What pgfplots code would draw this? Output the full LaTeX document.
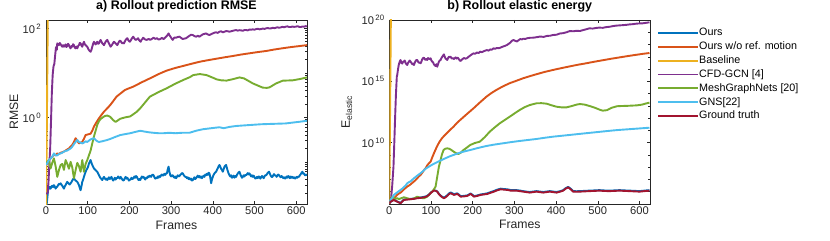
\documentclass[border=0pt]{standalone}
\usepackage{fontspec}
\setmainfont{Liberation Sans}
\usepackage{pgfplots}
\pgfplotsset{compat=1.18}
\definecolor{cOurs}{rgb}{0,0.447,0.741}
\definecolor{cWo}{rgb}{0.85,0.325,0.098}
\definecolor{cBase}{rgb}{0.929,0.694,0.125}
\definecolor{cCfd}{rgb}{0.494,0.184,0.556}
\definecolor{cMgn}{rgb}{0.466,0.674,0.188}
\definecolor{cGns}{rgb}{0.301,0.745,0.933}
\definecolor{cGt}{rgb}{0.635,0.078,0.184}
\definecolor{axgray}{rgb}{0.15,0.15,0.15}
\tikzset{L/.style={line width=1.9bp, line join=round}}
\pgfplotsset{
  mystyle/.style={
    scale only axis, width=261bp, height=184bp,
    xmin=0, xmax=626, xtick={0,100,...,600},
    tick align=inside,
    axis line style={draw=axgray, line width=0.5bp},
    tick style={draw=axgray, line width=0.5bp},
    major tick length=3bp, minor tick length=2bp,
    tick label style={font=\fontsize{11.2}{12}\selectfont, text=axgray},
    xticklabel style={inner sep=0pt, anchor=north, yshift=-2.5bp, /pgf/number format/assume math mode=true},
    yticklabel style={inner sep=0pt, anchor=east, xshift=-4.5bp},
    xlabel=Frames,
    xlabel style={font=\fontsize{12.3}{14}\selectfont, text=axgray, at={(axis description cs:0.5,0)}, anchor=base, yshift=-25bp, inner sep=0pt},
    title style={font=\bfseries\fontsize{12.5}{14}\selectfont, at={(axis description cs:0.5,1)}, anchor=base, yshift=4.5bp, inner sep=0pt},
  }
}
\begin{document}
\begin{tikzpicture}
\path[use as bounding box] (0,0) rectangle (830bp,241bp);
% ---------------- a) ----------------
\begin{axis}[ymode=log, mystyle, at={(46bp,37bp)}, anchor=south west,
  ymin=0.0113, ymax=154,
  ytick={1,100}, yticklabels={10\textsuperscript{\,0},10\textsuperscript{\,2}},
  minor ytick={0.02,0.03,0.04,0.05,0.06,0.07,0.08,0.09,0.1,0.2,0.3,0.4,0.5,0.6,0.7,0.8,0.9,2,3,4,5,6,7,8,9,10,20,30,40,50,60,70,80,90},
  title={a) Rollout prediction RMSE},
  ylabel={RMSE},
  ylabel style={font=\fontsize{12.3}{14}\selectfont, text=axgray, at={(axis description cs:-0.107,0.5)}, anchor=base, inner sep=0pt},
]
% Ours
\addplot[cOurs, L] coordinates {(0,0.0085)(2,0.012)(5,0.023)(8,0.0275)(11,0.025)(13,0.028)(15,0.029)(17,0.027)(19,0.030)(21,0.028)(23,0.025)(25,0.027)(27,0.0275)(29,0.03)(31,0.032)(33,0.031)(35,0.033)(37,0.031)(39,0.029)(41,0.027)(43,0.025)(45,0.028)(47,0.030)(49,0.033)(51,0.0355)(53,0.034)(55,0.032)(57,0.031)(59,0.033)(61,0.035)(63,0.038)(65,0.041)(67,0.043)(69,0.040)(71,0.038)(73,0.037)(75,0.0355)(77,0.033)(79,0.030)(81,0.026)(83,0.023)(85,0.028)(87,0.0355)(89,0.040)(91,0.046)(93,0.053)(95,0.060)(97,0.066)(99,0.071)(101,0.078)(103,0.092)(105,0.10)(107,0.11)(109,0.095)(111,0.085)(113,0.078)(115,0.071)(117,0.068)(119,0.065)(121,0.062)(123,0.060)(125,0.055)(127,0.050)(129,0.046)(131,0.043)(133,0.041)(135,0.039)(137,0.043)(139,0.046)(141,0.043)(143,0.040)(145,0.042)(147,0.039)(149,0.042)(151,0.045)(153,0.041)(155,0.043)(157,0.046)(159,0.041)(161,0.038)(163,0.040)(165,0.044)(167,0.040)(169,0.043)(171,0.043)(173,0.047)(175,0.044)(177,0.042)(179,0.046)(181,0.043)(183,0.040)(185,0.038)(187,0.039)(189,0.043)(191,0.046)(193,0.042)(195,0.044)(197,0.041)(199,0.038)(201,0.040)(203,0.040)(205,0.044)(207,0.041)(210,0.043)(212,0.047)(214,0.044)(216,0.048)(218,0.046)(220,0.042)(222,0.039)(224,0.041)(226,0.039)(228,0.043)(230,0.047)(232,0.044)(234,0.046)(236,0.043)(238,0.040)(240,0.044)(242,0.043)(244,0.047)(246,0.045)(248,0.049)(250,0.048)(252,0.046)(254,0.050)(256,0.052)(258,0.050)(260,0.045)(262,0.042)(264,0.044)(266,0.043)(268,0.047)(270,0.044)(272,0.048)(274,0.046)(276,0.050)(278,0.052)(280,0.049)(282,0.050)(284,0.054)(286,0.051)(288,0.055)(290,0.055)(292,0.068)(294,0.078)(296,0.060)(298,0.050)(300,0.047)(302,0.050)(304,0.050)(306,0.046)(308,0.044)(310,0.047)(312,0.043)(314,0.046)(316,0.050)(318,0.047)(320,0.048)(322,0.051)(324,0.053)(326,0.056)(328,0.055)(330,0.051)(332,0.048)(334,0.046)(336,0.046)(338,0.043)(340,0.045)(342,0.041)(344,0.043)(346,0.040)(348,0.042)(350,0.038)(352,0.039)(354,0.042)(356,0.045)(358,0.041)(360,0.043)(362,0.046)(364,0.049)(366,0.045)(368,0.048)(370,0.044)(372,0.047)(374,0.043)(376,0.046)(378,0.049)(380,0.046)(382,0.052)(384,0.050)(386,0.054)(388,0.051)(390,0.057)(392,0.055)(394,0.045)(396,0.033)(398,0.040)(400,0.046)(402,0.051)(404,0.055)(406,0.058)(408,0.060)(410,0.066)(412,0.072)(414,0.080)(416,0.085)(418,0.078)(420,0.070)(422,0.066)(424,0.060)(426,0.068)(428,0.078)(430,0.082)(432,0.085)(434,0.072)(436,0.062)(438,0.055)(440,0.050)(442,0.047)(444,0.050)(446,0.044)(448,0.046)(450,0.049)(452,0.044)(454,0.048)(456,0.046)(458,0.051)(460,0.055)(462,0.058)(464,0.060)(466,0.053)(468,0.048)(470,0.044)(472,0.046)(474,0.050)(476,0.047)(478,0.051)(480,0.050)(482,0.053)(484,0.056)(486,0.052)(488,0.055)(490,0.051)(492,0.047)(494,0.050)(496,0.046)(498,0.049)(500,0.045)(502,0.042)(504,0.043)(506,0.046)(508,0.043)(510,0.047)(512,0.046)(514,0.042)(516,0.045)(518,0.048)(520,0.046)(522,0.043)(524,0.047)(526,0.050)(528,0.050)(530,0.053)(532,0.057)(535,0.060)(537,0.054)(539,0.049)(541,0.046)(543,0.046)(545,0.050)(547,0.053)(549,0.049)(551,0.050)(553,0.046)(555,0.049)(557,0.052)(559,0.050)(561,0.047)(563,0.045)(565,0.048)(567,0.046)(569,0.043)(571,0.045)(573,0.042)(575,0.043)(577,0.047)(579,0.044)(581,0.048)(583,0.046)(585,0.043)(587,0.047)(589,0.044)(591,0.046)(593,0.043)(595,0.045)(597,0.042)(599,0.043)(601,0.046)(603,0.044)(605,0.047)(607,0.046)(609,0.050)(611,0.053)(613,0.057)(615,0.060)(617,0.054)(619,0.055)(621,0.050)(623,0.050)(626,0.052)};
% Ours w/o ref. motion
\addplot[cWo, L] coordinates {(0,0.085)(3,0.09)(7,0.11)(11,0.12)(15,0.13)(19,0.145)(23,0.14)(27,0.155)(31,0.15)(35,0.16)(39,0.165)(43,0.17)(47,0.18)(51,0.19)(55,0.2)(59,0.22)(63,0.24)(67,0.28)(71,0.34)(75,0.3)(79,0.26)(83,0.27)(87,0.28)(91,0.33)(95,0.40)(99,0.41)(103,0.42)(107,0.43)(111,0.5)(115,0.62)(119,0.72)(123,0.83)(127,0.95)(131,1.07)(135,1.2)(139,1.34)(147,1.6)(154,1.89)(161,2.3)(169,2.91)(178,3.4)(189,4.1)(199,4.5)(209,4.88)(229,6.1)(249,7.5)(269,9.3)(289,11.2)(309,12.8)(329,14.3)(349,16.0)(369,17.8)(389,19.3)(409,20.8)(429,22.4)(448,23.9)(468,25.8)(488,27.5)(508,29.3)(528,31)(548,33.5)(568,35.8)(588,38)(608,40)(626,42)};
% Baseline
\addplot[cBase, L] coordinates {(0,0.005)(6,10000)};
% CFD-GCN
\addplot[cCfd, L] coordinates {(0,0.0195)(2,0.0195)(4,0.02)(6,0.035)(8,0.09)(10,0.2)(12,0.8)(14,3.5)(16,9)(18,14)(20,16)(22,25)(24,38)(26,33)(27,46)(29,44)(31,42)(33,47)(35,44)(37,41)(39,38.6)(41,42)(43,38.6)(45,41)(47,43.5)(49,38)(51,40.2)(53,45)(55,42)(57,38)(59,35.5)(61,40)(63,38.6)(65,44)(67,42)(69,37)(71,35.5)(73,39)(75,35.5)(77,40)(79,42)(81,47)(83,46)(85,41)(87,38.6)(89,45)(91,50)(93,44)(95,42)(97,40)(99,38.6)(101,35)(103,32.5)(105,31)(107,29.8)(109,33)(111,38.6)(113,45)(115,50)(117,46)(119,43.5)(121,47)(123,50)(125,45)(127,46)(129,51)(131,55)(133,50)(135,46)(137,44)(139,42)(141,46)(143,50)(145,53)(147,55)(149,50)(151,46)(153,42)(155,38.6)(157,41)(159,43.5)(161,47)(163,50)(165,48)(167,46)(169,44)(171,42)(173,46)(175,50)(177,53)(179,52)(181,48)(183,46)(185,48)(187,46)(189,50)(191,55)(193,58)(195,60)(197,55)(199,52)(201,50)(203,53)(205,57.5)(207,61)(209,65)(211,61)(213,57.5)(215,55)(217,56)(219,58)(221,60)(223,55)(225,52)(227,50)(229,55)(231,57.5)(233,61.6)(235,59)(238,56)(242,55)(246,58)(250,55)(254,58)(258,61.6)(262,58)(266,60)(270,56)(274,57.5)(278,61)(282,57.5)(286,62)(290,68)(292,72)(294,77)(296,70)(298,66)(300,62)(302,58)(304,55)(306,59)(308,62)(312,61.6)(316,64)(320,65)(324,61)(328,57.5)(332,59)(336,60)(340,64)(344,68)(348,72)(352,70.8)(356,67)(360,65)(364,68)(368,65)(372,69)(376,73.3)(380,75)(384,77)(388,73)(392,70.8)(396,74)(400,77)(404,80)(408,81.3)(412,79)(416,84)(420,86)(424,81.3)(428,84)(432,87)(436,86)(440,84)(444,86)(448,88)(452,90)(456,91.6)(460,89)(464,91)(468,90)(472,88)(476,92)(480,91.6)(484,90)(488,94)(492,93)(496,95)(500,93)(504,96.4)(508,98)(512,95)(516,96.4)(520,99)(524,97)(528,100)(532,102)(536,99)(540,100)(544,103)(548,101)(551,103)(555,106)(559,103)(563,105)(567,108)(571,106)(575,109)(579,111)(583,107)(587,107)(591,110)(595,108)(599,109)(603,112)(607,108)(611,107)(615,110)(619,109)(623,112)(626,111)};
% MeshGraphNets
\addplot[cMgn, L] coordinates {(0,0.09)(3,0.1)(7,0.11)(9,0.085)(11,0.071)(15,0.095)(19,0.12)(23,0.08)(27,0.046)(31,0.065)(35,0.085)(39,0.09)(43,0.066)(47,0.11)(51,0.09)(55,0.07)(59,0.10)(63,0.075)(67,0.043)(71,0.065)(75,0.095)(79,0.08)(83,0.060)(87,0.11)(91,0.060)(95,0.09)(99,0.11)(103,0.14)(107,0.18)(111,0.26)(115,0.37)(119,0.5)(123,0.68)(127,0.82)(131,0.92)(135,0.98)(141,1.07)(147,1.1)(154,1.03)(161,0.87)(167,0.79)(172,0.85)(178,0.93)(190,1.0)(202,1.05)(218,1.34)(226,1.6)(240,2.3)(249,2.91)(270,3.7)(289,4.48)(310,5.7)(329,6.9)(345,8.0)(353,8.9)(369,9.4)(385,8.9)(400,7.8)(409,7.15)(420,6.8)(433,6.7)(448,7.2)(464,7.9)(475,7.5)(496,5.8)(512,5.0)(520,4.65)(530,4.6)(536,4.72)(552,5.8)(568,6.67)(592,6.8)(610,7.3)(626,7.9)};
% GNS
\addplot[cGns, L] coordinates {(0,0.085)(3,0.093)(7,0.11)(11,0.12)(15,0.13)(19,0.155)(23,0.14)(27,0.14)(31,0.15)(35,0.155)(39,0.16)(43,0.17)(47,0.175)(51,0.18)(55,0.19)(59,0.20)(63,0.22)(67,0.25)(71,0.28)(75,0.31)(79,0.28)(83,0.27)(87,0.26)(91,0.27)(95,0.29)(99,0.28)(103,0.30)(107,0.32)(111,0.33)(115,0.34)(119,0.31)(123,0.29)(127,0.28)(131,0.285)(135,0.29)(141,0.30)(147,0.31)(155,0.33)(165,0.36)(178,0.40)(190,0.42)(202,0.44)(214,0.47)(226,0.50)(236,0.48)(248,0.46)(258,0.45)(270,0.44)(282,0.44)(296,0.45)(310,0.44)(326,0.45)(344,0.45)(360,0.50)(376,0.54)(396,0.57)(416,0.60)(426,0.57)(440,0.61)(456,0.64)(476,0.66)(496,0.68)(516,0.70)(535,0.71)(555,0.72)(575,0.73)(595,0.77)(610,0.80)(626,0.84)};
\end{axis}
% ---------------- b) ----------------
\begin{axis}[ymode=log, mystyle, at={(389.3bp,37bp)}, anchor=south west,
  ymin=1e5, ymax=1e20,
  ytick={1e10,1e15,1e20}, yticklabels={10\textsuperscript{\,10},10\textsuperscript{\,15},10\textsuperscript{\,20}},
  minor ytick={1e6,1e7,1e8,1e9,1e11,1e12,1e13,1e14,1e16,1e17,1e18,1e19},
  title={b) Rollout elastic energy},
  ylabel={E\textsubscript{elastic}},
  ylabel style={font=\fontsize{12.3}{14}\selectfont, text=axgray, at={(axis description cs:-0.1506,0.5)}, anchor=base, inner sep=0pt},
  legend style={at={(axis description cs:1.026,0.959)}, anchor=north west, draw=none, fill=none, inner sep=0pt,
    font=\fontsize{10.8}{12}\selectfont, row sep=3.7bp,
    nodes={inner sep=0pt, text height=7.8bp, text depth=2.4bp},
    /tikz/every even column/.append style={column sep=4bp}},
  legend cell align=left,
  legend image code/.code={\draw[#1] (0bp,0bp) -- (40bp,0bp);},
]
\addplot[cOurs, L] coordinates {(0,1.1e5)(3,1.5e5)(7,1.9e5)(11,2.3e5)(15,1.9e5)(19,1.6e5)(23,1.4e5)(27,1.2e5)(31,1.7e5)(35,2.3e5)(43,2.5e5)(51,2.6e5)(59,2.8e5)(67,3.2e5)(75,3.4e5)(83,3.8e5)(89,4.3e5)(95,5.8e5)(101,9.3e5)(107,1.3e6)(111,1.25e6)(115,1.05e6)(119,6.8e5)(123,4.9e5)(127,3.9e5)(131,3.3e5)(135,4e5)(139,5.2e5)(143,7.2e5)(147,8.7e5)(151,7.6e5)(155,6.3e5)(159,6.9e5)(163,7.4e5)(167,5.8e5)(171,4.4e5)(179,4.6e5)(187,5e5)(191,6e5)(195,7.2e5)(199,5.8e5)(203,4.4e5)(211,5e5)(219,6e5)(227,6.6e5)(235,7.4e5)(243,9.3e5)(251,1.15e6)(259,1.48e6)(267,1.78e6)(275,1.65e6)(283,1.58e6)(291,1.38e6)(298,1.35e6)(305,1.35e6)(313,1.25e6)(321,1.12e6)(329,1.02e6)(337,9.5e5)(345,1.03e6)(353,1.12e6)(361,1.03e6)(369,9.5e5)(377,1.03e6)(385,1.12e6)(393,1.03e6)(401,9.5e5)(409,1.1e6)(417,1.35e6)(423,1.95e6)(429,2.5e6)(435,1.75e6)(441,1.12e6)(449,1.1e6)(457,1.12e6)(469,1.18e6)(480,1.23e6)(492,1.28e6)(504,1.35e6)(516,1.27e6)(528,1.23e6)(540,1.28e6)(552,1.35e6)(564,1.28e6)(576,1.23e6)(588,1.18e6)(600,1.12e6)(612,1.23e6)(624,1.35e6)};
\addlegendentry{Ours}
\addplot[cWo, L] coordinates {(0,1.26e5)(3,2e5)(7,2.51e5)(11,2.95e5)(15,3.98e5)(19,5.62e5)(23,7.08e5)(27,8.51e5)(31,1.12e6)(35,1.58e6)(39,2e6)(43,2.63e6)(47,3.16e6)(51,3.98e6)(55,5.25e6)(59,6.76e6)(63,8.91e6)(67,1.26e7)(71,1.78e7)(75,2.34e7)(79,3.55e7)(83,5.62e7)(87,8.13e7)(91,1.41e8)(95,2.09e8)(99,2.82e8)(103,6.31e8)(107,1.35e9)(114,4.68e9)(120,1.12e10)(126,2.24e10)(132,3.72e10)(138,5.89e10)(146,1.12e11)(154,2e11)(162,3.98e11)(170,7.08e11)(186,2.14e12)(202,6.31e12)(218,2e13)(233,5.62e13)(245,1.12e14)(257,2e14)(273,3.98e14)(289,7.08e14)(305,1.12e15)(321,1.78e15)(337,2.63e15)(353,3.8e15)(373,5.89e15)(393,8.51e15)(413,1.2e16)(433,1.66e16)(452,2.24e16)(472,2.95e16)(492,3.98e16)(512,5.25e16)(532,6.92e16)(552,8.91e16)(572,1.15e17)(592,1.45e17)(608,1.74e17)(624,2.04e17)};
\addlegendentry{Ours w/o ref. motion}
\addplot[cBase, L] coordinates {(0,1e5)(1,1e9)(2,1e13)(3,1e17)(4,1e21)(5,1e25)};
\addlegendentry{Baseline}
\addplot[cCfd, L] coordinates {(0,1.26e5)(2,1.41e5)(4,2.14e5)(7,3.16e6)(10,1.1e8)(12,1e10)(14,1.32e12)(16,1e14)(18,2.4e15)(19,3.3e15)(21,1e16)(23,2.5e16)(25,4e16)(27,5.5e16)(29,3.2e16)(31,2.8e16)(33,4e16)(35,4e16)(37,5e16)(39,3.2e16)(41,2.5e16)(43,2.14e16)(45,3.2e16)(47,4e16)(49,5e16)(51,4e16)(53,3.2e16)(55,2.5e16)(57,2.8e16)(59,2.14e16)(61,3.2e16)(63,4.5e16)(65,5.5e16)(67,5.5e16)(69,4e16)(71,3.2e16)(73,3.5e16)(75,2.95e16)(77,4e16)(79,6.3e16)(81,7.9e16)(83,8.5e16)(85,6.3e16)(87,5.6e16)(89,6.6e16)(91,5.5e16)(93,7.9e16)(95,7.1e16)(97,6.3e16)(99,7.6e16)(101,5e16)(103,4e16)(105,3.5e16)(107,2.45e16)(109,2e16)(111,1.78e16)(113,2.5e16)(115,1.55e16)(117,2.5e16)(119,4e16)(121,5e16)(123,5.5e16)(125,7.9e16)(127,1e17)(129,1.26e17)(131,1.58e17)(133,1e17)(135,7.1e16)(137,6.3e16)(139,5.5e16)(141,7.9e16)(143,1e17)(145,8.9e16)(147,1.02e17)(149,7.9e16)(151,7.1e16)(153,7.9e16)(155,6.6e16)(157,7.9e16)(159,8.9e16)(161,7.1e16)(163,8.5e16)(165,7.9e16)(167,6.3e16)(169,5e16)(171,4.6e16)(175,6.3e16)(179,7.9e16)(183,7.1e16)(186,7.6e16)(190,1e17)(194,1.26e17)(198,1.58e17)(202,1.9e17)(206,1.78e17)(210,2.24e17)(214,2e17)(218,2.63e17)(222,2.4e17)(226,2.8e17)(230,3.16e17)(234,3.55e17)(238,3.16e17)(242,4e17)(246,3.8e17)(250,4.9e17)(254,4.5e17)(258,5.25e17)(262,5e17)(266,5.5e17)(270,6.3e17)(274,7.1e17)(278,7.9e17)(282,9.1e17)(286,1.12e18)(290,1.41e18)(294,2e18)(298,2.34e18)(302,2e18)(306,1.78e18)(310,2.24e18)(314,2.8e18)(318,2.63e18)(322,3e18)(326,2.8e18)(330,3.24e18)(338,3.55e18)(346,3.63e18)(354,4e18)(362,4.5e18)(370,4.2e18)(378,5e18)(386,5.25e18)(393,6e18)(401,6.3e18)(409,7.9e18)(417,8.5e18)(425,1e19)(433,1.26e19)(441,1.2e19)(449,1.32e19)(457,1.26e19)(465,1.51e19)(473,1.78e19)(480,2.1e19)(488,2e19)(496,2.24e19)(504,2.4e19)(512,2.3e19)(520,2.63e19)(528,2.8e19)(536,3.16e19)(544,3.47e19)(552,3.63e19)(560,3.8e19)(568,4e19)(576,4.37e19)(584,4.57e19)(592,5e19)(600,5.25e19)(608,5.37e19)(616,5.9e19)(624,6.46e19)};
\addlegendentry{CFD-GCN [4]}
\addplot[cMgn, L] coordinates {(0,1.41e5)(3,2e5)(7,3.98e5)(11,3.16e5)(15,2.63e5)(19,2.95e5)(23,2.51e5)(27,2.82e5)(31,3.16e5)(35,3.55e5)(43,2.95e5)(51,2.45e5)(59,2.82e5)(67,3.98e5)(75,3.16e5)(83,2.95e5)(91,3.98e5)(95,5.5e5)(99,7.94e5)(103,1.02e6)(107,1.58e6)(111,2.63e6)(115,1.7e7)(119,1.1e8)(122,2.82e8)(126,1e9)(130,2.51e9)(134,3.16e9)(139,3.47e9)(144,3.16e9)(149,2.51e9)(155,1.78e9)(160,1.41e9)(166,1.2e9)(172,1.58e9)(178,2.51e9)(186,3.98e9)(194,6.46e9)(205,9.33e9)(217,1.2e10)(229,2.82e10)(241,7.94e10)(253,1.78e11)(265,3.8e11)(277,7.08e11)(289,1.32e12)(301,2.51e12)(313,4.68e12)(325,7.94e12)(337,1.17e13)(353,1.62e13)(365,1.66e13)(377,1.51e13)(389,1.12e13)(401,8.51e12)(413,7.59e12)(425,7.59e12)(437,9.55e12)(449,1.26e13)(457,1.41e13)(469,1.26e13)(481,9.55e12)(493,7.08e12)(505,4.79e12)(512,4.07e12)(522,4.47e12)(534,7.08e12)(546,9.33e12)(558,9.77e12)(570,1e13)(582,1.05e13)(594,1.1e13)(606,1.26e13)(616,1.58e13)(624,1.82e13)};
\addlegendentry{MeshGraphNets [20]}
\addplot[cGns, L] coordinates {(0,1.41e5)(3,2.14e5)(7,3.16e5)(11,5.5e5)(15,7.08e5)(19,8.91e5)(23,1.12e6)(27,1.41e6)(31,1.78e6)(35,2.4e6)(39,3.16e6)(43,4.9e6)(47,6.03e6)(51,7.08e6)(55,9.33e6)(59,1.26e7)(63,1.58e7)(67,2.04e7)(71,2.57e7)(75,3.24e7)(79,4.17e7)(83,5.62e7)(87,7.41e7)(91,9.12e7)(95,1.1e8)(100,1.41e8)(106,1.82e8)(114,2.51e8)(122,3.39e8)(130,4.57e8)(138,6.03e8)(146,7.94e8)(154,1e9)(164,1.32e9)(174,1.7e9)(184,2.09e9)(194,2.51e9)(213,3.72e9)(233,5.37e9)(253,7.08e9)(273,8.91e9)(293,1.12e10)(313,1.38e10)(333,1.66e10)(353,2e10)(373,2.51e10)(393,3.09e10)(413,3.63e10)(433,4.27e10)(452,5.01e10)(472,5.89e10)(492,6.92e10)(512,8.13e10)(532,9.55e10)(552,1.1e11)(572,1.23e11)(592,1.38e11)(608,1.51e11)(624,1.66e11)};
\addlegendentry{GNS[22]}
\addplot[cGt, L] coordinates {(0,1.12e5)(3,1.55e5)(7,1.78e5)(11,2.14e5)(15,1.78e5)(19,1.55e5)(23,1.32e5)(27,1.15e5)(31,1.58e5)(35,2.14e5)(43,2.29e5)(51,2.45e5)(59,2.63e5)(67,2.95e5)(75,3.16e5)(83,3.55e5)(89,3.98e5)(95,5.5e5)(101,8.9e5)(107,1.23e6)(111,1.2e6)(115,1.02e6)(119,6.31e5)(123,4.57e5)(127,3.55e5)(131,2.95e5)(135,3.55e5)(139,4.57e5)(143,6.31e5)(147,7.59e5)(151,6.61e5)(155,5.5e5)(159,6.03e5)(163,6.61e5)(167,5.25e5)(171,3.98e5)(179,4.17e5)(187,4.57e5)(191,5.5e5)(195,6.61e5)(199,5.25e5)(203,3.98e5)(211,4.57e5)(219,5.5e5)(227,6.03e5)(235,6.61e5)(243,8.32e5)(251,1.02e6)(259,1.32e6)(267,1.58e6)(275,1.48e6)(283,1.41e6)(291,1.23e6)(298,1.23e6)(305,1.23e6)(313,1.12e6)(321,1.02e6)(329,9.33e5)(337,8.51e5)(345,9.33e5)(353,1.02e6)(361,9.33e5)(369,8.51e5)(377,9.33e5)(385,1.02e6)(393,9.33e5)(401,8.51e5)(409,1e6)(417,1.23e6)(423,1.78e6)(429,2.29e6)(435,1.58e6)(441,1.02e6)(449,1e6)(457,1.02e6)(469,1.07e6)(480,1.12e6)(492,1.17e6)(504,1.23e6)(516,1.15e6)(528,1.12e6)(540,1.17e6)(552,1.23e6)(564,1.17e6)(576,1.12e6)(588,1.07e6)(600,1.02e6)(612,1.12e6)(624,1.23e6)};
\addlegendentry{Ground truth}
\end{axis}
\end{tikzpicture}
\end{document}
